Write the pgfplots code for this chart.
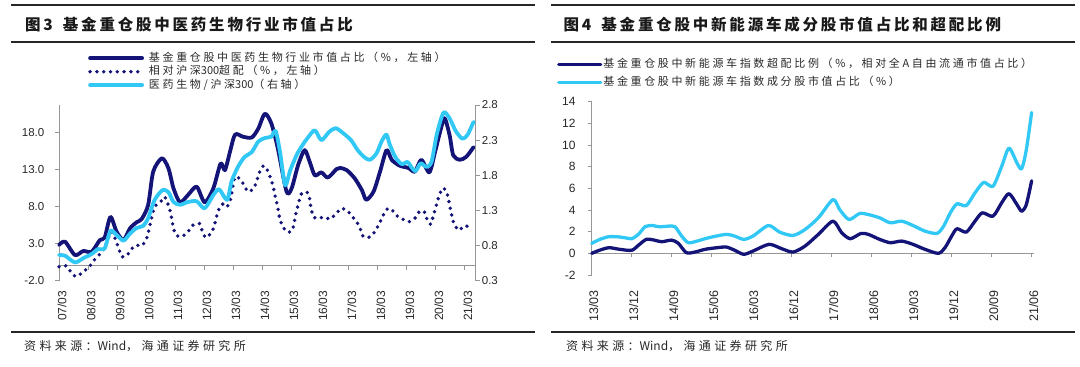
\documentclass[border=0pt]{standalone}
\usepackage{pgfplots}
\pgfplotsset{compat=1.18}
\usepackage{fontspec}
\setmainfont{Liberation Sans}
\newfontfamily\cjk{Noto Sans CJK SC}
\newfontfamily\cjkls{Noto Sans CJK SC}[LetterSpace=24]
\newfontfamily\cjkt{Noto Sans CJK SC}[LetterSpace=18]
\newfontfamily\cjks{Noto Sans CJK SC}[LetterSpace=28]
\definecolor{navy}{RGB}{20,20,120}
\definecolor{sky}{RGB}{50,200,245}
\definecolor{axgray}{RGB}{150,150,150}
\definecolor{txt}{RGB}{40,40,40}
\pgfplotsset{
  navyL/.style={color=navy, line width=3.8pt, line join=round, line cap=round},
  dotL/.style={color=navy, line width=3.8pt, line cap=round, dash pattern=on 0pt off 6.8pt},
  skyL/.style={color=sky, line width=3.8pt, line join=round, line cap=round},
  navyR/.style={color=navy, line width=3.3pt, line join=round, line cap=round},
  skyR/.style={color=sky, line width=3.3pt, line join=round, line cap=round},
  common/.style={scale only axis, clip=false,
    tick align=outside, major tick length=4pt,
    every tick/.style={draw=axgray, line width=0.8pt},
    axis line style={draw=axgray, line width=0.8pt},
    ticklabel style={font=\fontsize{11.5}{12}\selectfont, text=txt},
  },
}
\begin{document}
\begin{tikzpicture}
\useasboundingbox (0,0) rectangle (1080pt,367pt);
% rules
\draw[line width=1.6pt, black!85] (11pt,362pt) -- (535pt,362pt);
\draw[line width=1.3pt, black!85] (11pt,325pt) -- (535pt,325pt);
\draw[line width=1.3pt, black!85] (11pt,35pt) -- (535pt,35pt);
\draw[line width=1.6pt, black!85] (551pt,362pt) -- (1075pt,362pt);
\draw[line width=1.3pt, black!85] (551pt,325pt) -- (1075pt,325pt);
\draw[line width=1.3pt, black!85] (551pt,35pt) -- (1075pt,35pt);
% titles
\node[anchor=base west, inner sep=0pt, text=black!90] at (25pt,336pt) {\cjkt\bfseries\fontsize{15.5}{15.5}\selectfont 图3\hspace{10pt}基金重仓股中医药生物行业市值占比};
\node[anchor=base west, inner sep=0pt, text=black!90] at (563.5pt,336pt) {\cjkt\bfseries\fontsize{15.5}{15.5}\selectfont 图4\hspace{10pt}基金重仓股中新能源车成分股市值占比和超配比例};
% sources
\node[anchor=base west, inner sep=0pt, text=txt] at (24pt,16pt) {\cjks\fontsize{12}{12}\selectfont 资料来源：{\cjk Wind}，海通证券研究所};
\node[anchor=base west, inner sep=0pt, text=txt] at (566pt,16pt) {\cjks\fontsize{12}{12}\selectfont 资料来源：{\cjk Wind}，海通证券研究所};

% ---------- left chart, left axis ----------
\begin{axis}[common,
  at={(59pt,86.3pt)}, anchor=south west, width=416.7pt, height=175.7pt,
  xmin=0, xmax=57.5, ymin=-2, ymax=21.68,
  axis y line*=left, axis x line*=bottom, x axis line style={draw=none},
  xtick={0,4,...,56},
  xticklabels={07/03,08/03,09/03,10/03,11/03,12/03,13/03,14/03,15/03,16/03,17/03,18/03,19/03,20/03,21/03},
  xtick style={draw=none},
  xticklabel style={xshift=3pt, rotate=90, anchor=east, inner sep=0pt, font=\fontsize{12}{12}\selectfont},
  xticklabel shift=6pt,
  ytick={-2,3,8,13,18}, yticklabels={-2.0,3.0,8.0,13.0,18.0},
  yticklabel style={inner sep=0pt}, yticklabel shift=10.5pt,
  legend style={at={(0.0696,1.3002)}, anchor=north west, draw=none, fill=none,
    inner sep=0pt, row sep=2pt, column sep=5pt,
    font=\cjkls\fontsize{11}{11}\selectfont, text=txt,
    nodes={inner sep=0pt, text height=9pt, text depth=2.5pt}},
  legend cell align=left,
  legend image code/.code={\draw[#1] (0pt,0pt) -- (52pt,0pt);},
]
\draw[axgray, line width=0.8pt] (axis cs:0,0) -- (axis cs:57.5,0);
\pgfplotsinvokeforeach{0,4,8,12,16,20,24,28,32,36,40,44,48,52,56}{
  \draw[axgray, line width=0.8pt] (axis cs:#1,0) -- ++(0pt,-4pt);
}
\addplot[navyL, smooth, tension=0.45] coordinates {
(0,2.81) (0.83,3.26) (2.2,1.46) (3.35,2.0) (4.5,1.9) (5.65,3.49) (6.3,3.8) (7.1,6.6) (7.95,4.6) (8.9,3.49) (9.8,5.06) (10.7,5.87) (11.4,6.3) (12.3,8.2) (13,12.7) (14.2,14.5) (15.1,13.15) (15.8,10.45) (16.7,8.57) (17.8,9.55) (19,10.67) (20.1,8.57) (21.3,10.45) (22.3,13.8) (22.9,12.9) (23.6,15.4) (24.3,17.7) (25.4,17.4) (26.6,17.3) (27.5,18.5) (28.4,20.5) (29.3,19.2) (30.2,15.8) (31.4,10.0) (32.1,10.45) (33,13.6) (33.9,15.6) (34.6,14.0) (35.3,12.2) (36.2,12.6) (37.1,11.9) (38.3,13.05) (38.8,13.2) (39.7,12.9) (40.8,11.8) (41.8,10.2) (42.4,8.9) (43.4,10.0) (44.3,12.7) (45.2,15.6) (45.9,14.3) (47,13.5) (48.2,13.2) (49.1,12.7) (50,14.3) (51.1,12.6) (51.9,15.4) (52.6,18.1) (53.2,19.9) (53.9,17.6) (54.4,14.9) (55.3,14.3) (56.2,14.7) (57.2,16.0)
};
\addlegendentry{基金重仓股中医药生物行业市值占比（\%，左轴）}
\addplot[dotL, smooth, tension=0.45] coordinates {
(0,-0.11) (1,0.0) (1.75,-1.0) (2.4,-1.46) (3.35,-0.79) (4.2,-0.1) (4.8,0.7) (5.6,1.56) (6.3,2.45) (7.2,4.6) (7.9,3.26) (8.7,1.23) (9.4,1.46) (10,2.27) (10.7,2.81) (11.4,2.7) (12.1,3.7) (12.6,5.7) (13.2,8.0) (14,8.6) (14.6,9.3) (15.3,7.5) (16,4.4) (16.9,3.93) (17.8,4.6) (18.5,5.5) (19.4,5.7) (19.8,4.6) (20.3,3.8) (21.1,4.6) (21.5,5.7) (22,7.5) (22.7,8.4) (23.2,8.0) (23.7,9.1) (24.3,12.0) (25.2,11.4) (26.1,10.0) (27,10.7) (27.7,12.7) (28.3,13.5) (28.9,12.6) (29.5,10.9) (29.8,9.55) (30.2,7.76) (30.5,6.2) (30.9,5.3) (31.4,4.6) (32.2,4.8) (32.7,7.1) (33,8.2) (33.5,9.8) (34.4,9.8) (34.7,8.2) (35.1,6.6) (35.8,6.4) (36.6,6.6) (37.4,6.3) (38.3,7.1) (39,7.76) (39.8,7.4) (40.5,6.6) (41.1,5.9) (41.6,4.9) (42,3.93) (43,3.93) (43.7,4.8) (44.2,5.7) (44.7,6.76) (45.2,7.6) (45.8,7.7) (46.5,6.85) (47.4,6.3) (48.3,5.95) (49.2,6.5) (49.8,7.4) (50.5,7.2) (50.8,6.2) (51.3,5.6) (51.6,6.6) (51.9,7.6) (52.2,8.6) (52.5,9.6) (53,10.5) (53.5,9.9) (53.8,8.7) (54,7.7) (54.5,5.7) (55.2,4.8) (55.9,5.4) (56.8,5.2)
};
\addlegendentry{相对沪深{\cjk 300}超配（\%，左轴）}
\addlegendimage{skyL}
\addlegendentry{医药生物/沪深{\cjk 300}（右轴）}
\end{axis}

% ---------- left chart, right axis ----------
\begin{axis}[common,
  at={(59pt,86.3pt)}, anchor=south west, width=416.7pt, height=175.7pt,
  xmin=0, xmax=57.5, ymin=0.3, ymax=2.8,
  axis y line*=right, axis x line=none,
  ytick={0.3,0.8,1.3,1.8,2.3,2.8}, yticklabels={0.3,0.8,1.3,1.8,2.3,2.8},
  yticklabel style={inner sep=0pt}, yticklabel shift=2pt,
]
\addplot[skyL, smooth, tension=0.45] coordinates {
(0,0.666) (0.83,0.656) (2.2,0.56) (3.35,0.62) (4.5,0.68) (5.4,0.75) (6.3,0.76) (7.1,1.01) (7.95,0.95) (8.9,0.87) (9.8,0.97) (10.7,1.05) (11.6,1.08) (12.3,1.19) (13.2,1.45) (14.3,1.59) (15.1,1.56) (15.8,1.42) (16.7,1.38) (17.8,1.42) (19,1.43) (20.1,1.33) (21.3,1.52) (22.1,1.6) (23.2,1.45) (23.8,1.71) (24.7,1.92) (25.6,2.06) (26.6,2.13) (27.5,2.28) (28.4,2.33) (29.3,2.35) (29.9,2.43) (30.5,2.13) (31.2,1.66) (31.9,1.87) (32.8,2.09) (33.6,2.23) (34.3,2.33) (35.3,2.44) (36.2,2.3) (37.3,2.42) (38.2,2.47) (39.2,2.4) (40.3,2.3) (41.2,2.16) (42.1,2.06) (42.9,2.02) (43.8,2.11) (44.6,2.3) (45.2,2.38) (45.6,2.25) (46.4,2.06) (47.3,1.96) (48.1,1.99) (48.6,1.92) (49.2,1.86) (49.9,1.97) (50.7,1.92) (51.4,1.99) (52.1,2.37) (52.8,2.63) (53.2,2.7) (53.9,2.61) (54.8,2.42) (55.7,2.32) (56.4,2.38) (57.2,2.56)
};
\end{axis}

% ---------- right chart ----------
\begin{axis}[common,
  at={(591.7pt,92pt)}, anchor=south west, width=442.6pt, height=173.3pt,
  xmin=0, xmax=33.2, ymin=-2, ymax=14,
  axis y line*=left, axis x line*=bottom, x axis line style={draw=none},
  xtick={0,3,...,33},
  xticklabels={13/03,13/12,14/09,15/06,16/03,16/12,17/09,18/06,19/03,19/12,20/09,21/06},
  xtick style={draw=none},
  xticklabel style={xshift=2pt, rotate=90, anchor=east, inner sep=0pt, font=\fontsize{12.5}{12.5}\selectfont},
  xticklabel shift=11pt,
  ytick={-2,0,...,14},
  yticklabels={-2,0,2,4,6,8,10,12,14},
  yticklabel style={inner sep=0pt, font=\fontsize{12}{12}\selectfont}, yticklabel shift=12pt,
  legend style={at={(-0.0786,1.2507)}, anchor=north west, draw=none, fill=none,
    inner sep=0pt, row sep=6.5pt, column sep=1pt,
    font=\cjkls\fontsize{11}{11}\selectfont, text=txt,
    nodes={inner sep=0pt, text height=9pt, text depth=2.5pt}},
  legend cell align=left,
  legend image code/.code={\draw[#1] (0pt,0pt) -- (42pt,0pt);},
]
\draw[axgray, line width=0.8pt] (axis cs:0,0) -- (axis cs:33.2,0);
\pgfplotsinvokeforeach{0,3,6,9,12,15,18,21,24,27,30,33}{
  \draw[axgray, line width=0.8pt] (axis cs:#1,0) -- ++(0pt,-4pt);
}
\addplot[navyR, smooth, tension=0.45] coordinates {
(0,0) (0.62,0.3) (1.3,0.52) (2.1,0.37) (3,0.28) (3.5,0.74) (4.1,1.29) (4.7,1.22) (5.25,1.07) (6,1.22) (6.5,0.92) (7.1,0.06) (7.75,0.12) (8.5,0.37) (9.4,0.52) (10.1,0.58) (10.7,0.3) (11.4,-0.09) (12.1,0.21) (13.3,0.83) (14.25,0.43) (15.1,0.12) (16,0.67) (17,1.75) (18.1,2.97) (18.75,1.9) (19.4,1.35) (20.2,1.84) (20.75,1.75) (21.6,1.29) (22.4,0.98) (23.25,1.13) (24.1,0.83) (25,0.37) (26,0) (26.5,0.52) (27,1.59) (27.4,2.27) (28.1,1.96) (28.75,2.97) (29.3,3.74) (30.1,3.43) (30.75,4.66) (31.3,5.51) (31.9,4.5) (32.25,3.89) (32.6,4.5) (33,6.7)
};
\addlegendentry{基金重仓股中新能源车指数超配比例（\%，相对全A自由流通市值占比）}
\addplot[skyR, smooth, tension=0.45] coordinates {
(0,0.92) (0.62,1.29) (1.25,1.53) (1.9,1.53) (2.5,1.44) (3,1.35) (3.5,1.75) (4,2.45) (4.5,2.57) (5.1,2.45) (5.75,2.51) (6.25,2.45) (6.75,1.59) (7.25,0.98) (7.9,1.13) (8.5,1.35) (9.1,1.53) (10.1,1.75) (10.7,1.6) (11.4,1.29) (12.1,1.59) (13.25,2.57) (14.1,1.96) (15.1,1.65) (16,2.2) (17,3.28) (18.1,4.96) (18.6,4.04) (19.3,3.12) (20.1,3.68) (20.75,3.58) (21.6,3.28) (22.4,2.82) (23.25,2.97) (24.1,2.57) (25,2.05) (25.9,1.84) (26.4,2.51) (26.9,3.74) (27.4,4.57) (28.1,4.41) (28.75,5.58) (29.4,6.55) (30.1,6.19) (30.75,8.02) (31.3,9.71) (31.9,8.34) (32.25,7.81) (32.6,9.56) (33,13.0)
};
\addlegendentry{基金重仓股中新能源车指数成分股市值占比（\%）}
\end{axis}
\end{tikzpicture}
\end{document}
